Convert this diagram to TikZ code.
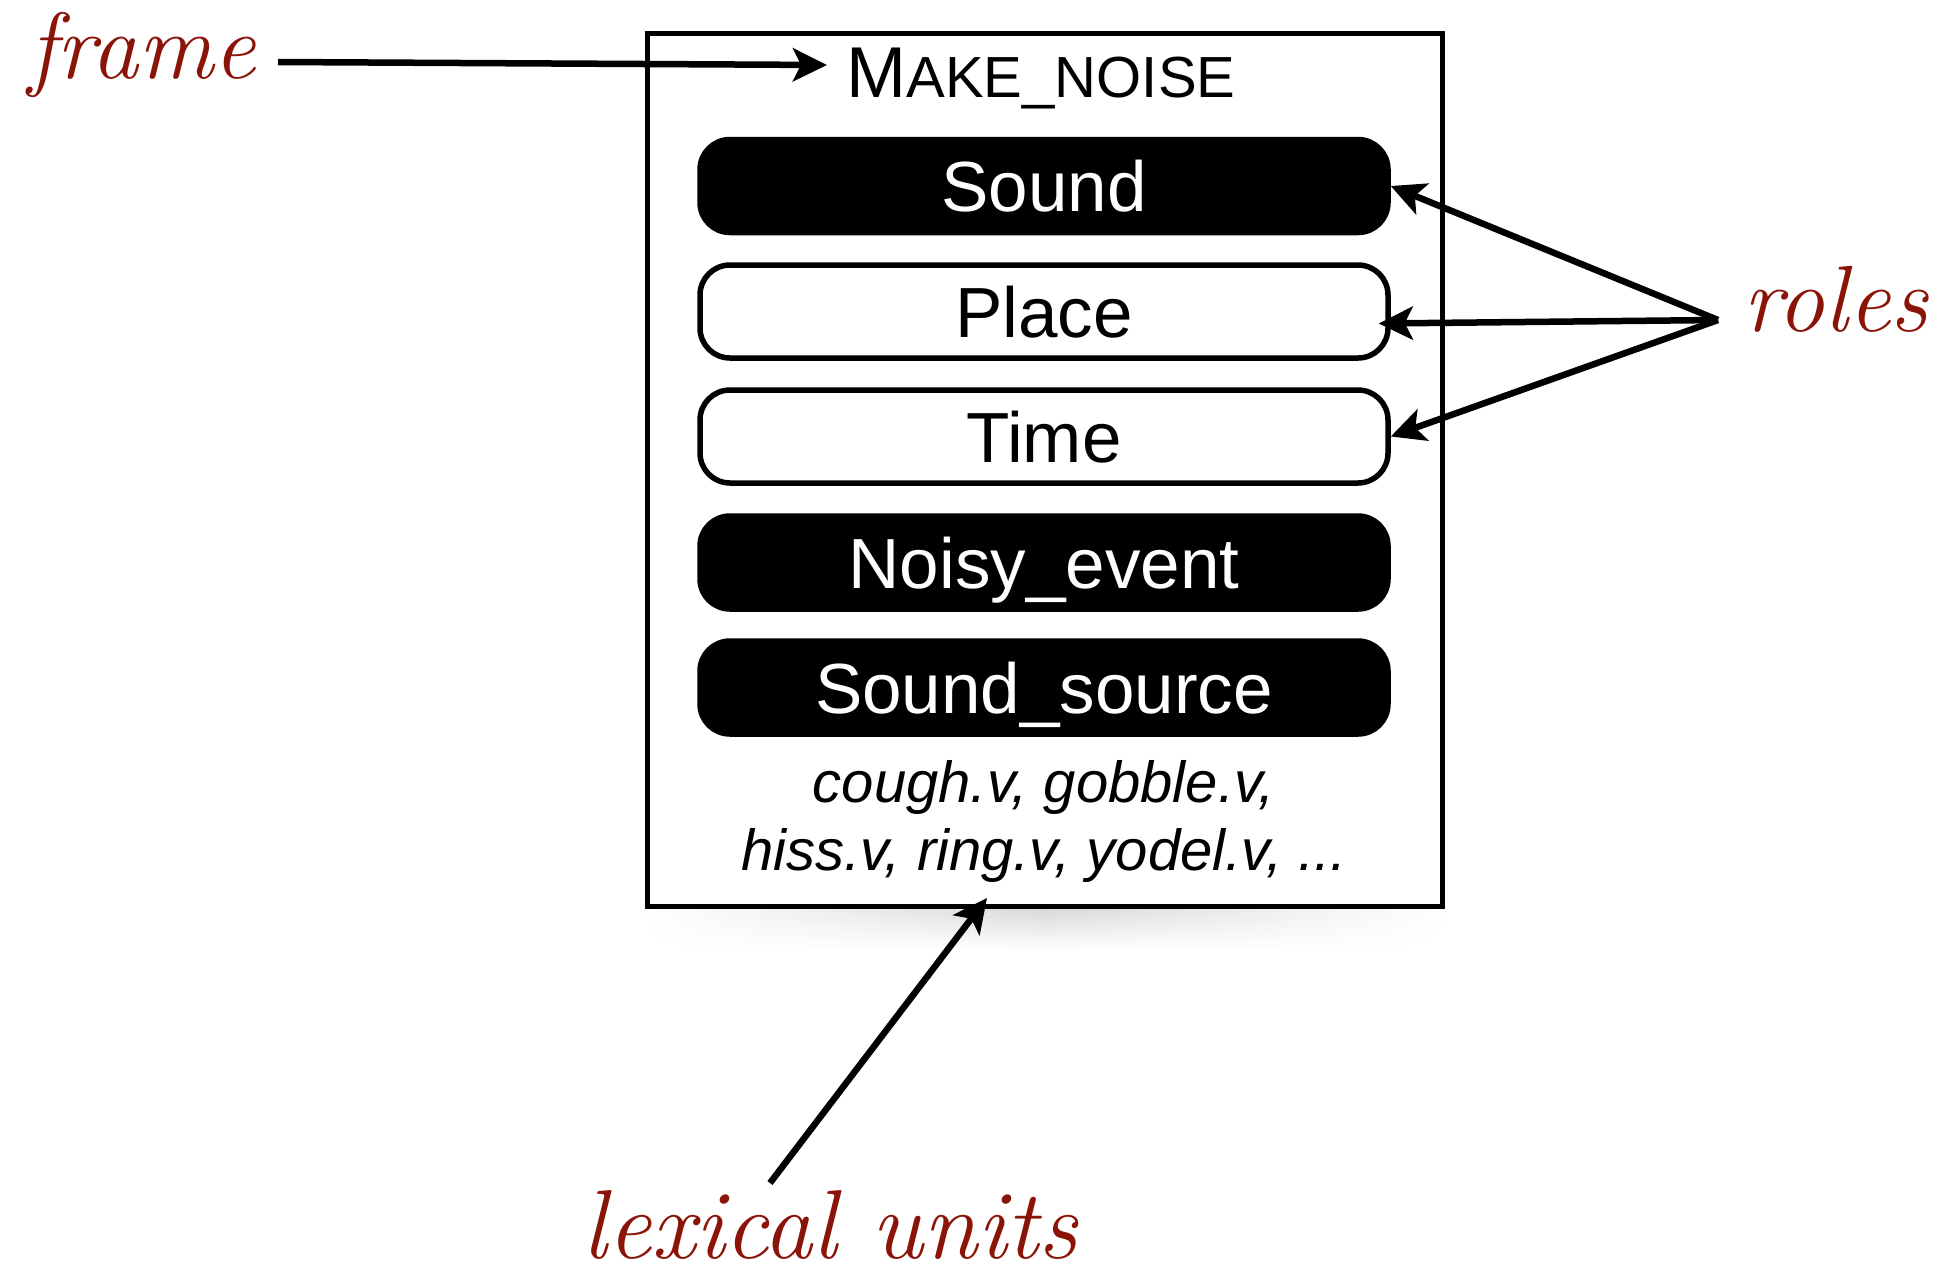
\documentclass[tikz,border=0pt]{standalone}
\usepackage{fontspec}
\setsansfont{Liberation Sans}
\usetikzlibrary{arrows.meta,calc,fadings}
\definecolor{handred}{RGB}{139,20,8}
\tikzfading[name=hfade, left color=transparent!100, right color=transparent!100, middle color=transparent!0]
\tikzset{
  rolebase/.style={rounded corners=30pt, minimum width=688pt, minimum height=93pt,
    line width=5.5pt, draw=black, inner sep=0pt, text height=51pt, text depth=0pt,
    font=\sffamily\fontsize{71}{80}\selectfont},
  corerole/.style={rolebase, fill=black, text=white},
  nonrole/.style={rolebase, fill=white, text=black},
  annot/.style={text=handred, inner sep=0pt, font=\rmfamily\itshape\fontsize{94}{100}\selectfont},
  lexline/.style={anchor=base, inner sep=0pt, font=\sffamily\itshape\fontsize{58}{68}\selectfont},
  arr/.style={line width=6.5pt, -{Stealth[length=34pt, width=33pt, inset=8pt]}},
}
\begin{document}
\begin{tikzpicture}[x=1pt,y=-1pt]
\useasboundingbox (0,0) rectangle (1936,1278);
% soft shadow under the frame box
\shade[top color=black!16, bottom color=white, path fading=hfade] (640,906) rectangle (1450,950);
\node[draw, line width=5pt, fill=white, minimum width=795pt, minimum height=873pt, inner sep=0pt] (framebox) at (1044.5,469.5) {};
\node[anchor=base, inner sep=0pt, font=\sffamily] (title) at (1041,97)
  {\fontsize{72}{80}\selectfont M\fontsize{58}{64}\selectfont AKE\_NOISE};
\node[corerole] (sound) at (1044,186) {Sound};
\node[nonrole] (place) at (1044,311.5) {Place};
\node[nonrole] (time) at (1044,436.5) {Time};
\node[corerole] (noisy) at (1044,562.5) {Noisy\_event};
\node[corerole] (source) at (1044,687.5) {Sound\_source};
\node[lexline] (lu1) at (1044,802) {cough.v, gobble.v,};
\node[lexline] (lu2) at (1044,870) {hiss.v, ring.v, yodel.v, ...};
% annotations
\node[annot, anchor=base] (framelbl) at (142,78) {frame};
\node[annot, anchor=base] (roleslbl) at (1836,331) {roles};
\node[annot, anchor=base, font=\rmfamily\itshape\fontsize{98}{100}\selectfont] (lexlbl) at (830,1258) {lexical units};
% arrows
\coordinate (fstart) at (278,62);
\coordinate (ftip) at (827,65);
\draw[arr] (fstart) -- (ftip);
\coordinate (rc) at (1718,320);
\draw[arr] (rc) -- (sound.east);
\draw[arr] (rc) -- ($(place.east)+(-12,12)$);
\draw[arr] (rc) -- (time.east);
\coordinate (lstart) at (770,1183);
\coordinate (ltip) at (987,898);
\draw[arr] (lstart) -- (ltip);
\end{tikzpicture}
\end{document}
